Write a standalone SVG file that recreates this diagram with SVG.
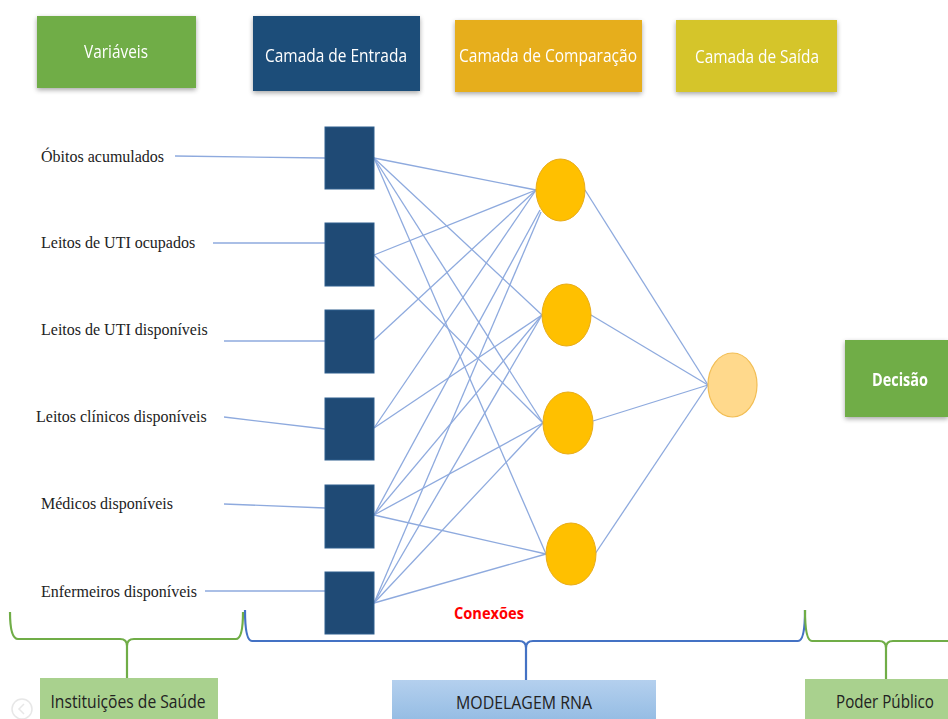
<svg xmlns="http://www.w3.org/2000/svg" width="948" height="719" viewBox="0 0 948 719">
<defs>
<filter id="soft" x="-10%" y="-10%" width="120%" height="130%">
<feGaussianBlur in="SourceAlpha" stdDeviation="2.5"/>
<feOffset dx="0" dy="1.5" result="b"/>
<feComponentTransfer><feFuncA type="linear" slope="0.35"/></feComponentTransfer>
<feMerge><feMergeNode/><feMergeNode in="SourceGraphic"/></feMerge>
</filter>
<linearGradient id="blueGrad" x1="0" y1="0" x2="0" y2="1">
<stop offset="0" stop-color="#B4D0EE"/>
<stop offset="1" stop-color="#93BBE3"/>
</linearGradient>
</defs>
<style>
.hdr{font-family:"Open Sans","Noto Sans",sans-serif;font-size:18px;fill:#ffffff;text-anchor:middle}
.var{font-family:"Liberation Serif","DejaVu Serif",serif;font-size:16px;fill:#222222}
.foot{font-family:"Open Sans","Noto Sans",sans-serif;font-size:18px;fill:#222222;text-anchor:middle}
.sq{fill:#1F4A75;stroke:#2E5E8E;stroke-width:1}
.cmp{fill:#FFC000;stroke:#E8AC1A;stroke-width:1}
.out{fill:#FFD98C;stroke:#F2BE55;stroke-width:1.2}
.ln{stroke:#8EAADE;stroke-width:1.3;fill:none}
.brG{stroke:#70AD47;stroke-width:2.2;fill:none}
.brB{stroke:#4472C4;stroke-width:2.2;fill:none}
</style>
<rect width="948" height="719" fill="#ffffff"/>

<g id="hdr-variaveis" filter="url(#soft)">
<rect x="37" y="16" width="159" height="72" fill="#70AD47"/>
<text class="hdr" x="116" y="58" textLength="64" lengthAdjust="spacingAndGlyphs">Variáveis</text>
</g>
<g id="hdr-entrada" filter="url(#soft)">
<rect x="253" y="16" width="167" height="75" fill="#1F4E79"/>
<text class="hdr" x="336" y="62" textLength="142" lengthAdjust="spacingAndGlyphs">Camada de Entrada</text>
</g>
<g id="hdr-comparacao" filter="url(#soft)">
<rect x="455" y="20" width="187" height="72" fill="#E6AE1C"/>
<text class="hdr" x="548" y="62" textLength="178" lengthAdjust="spacingAndGlyphs">Camada de Comparação</text>
</g>
<g id="hdr-saida" filter="url(#soft)">
<rect x="676" y="20" width="161" height="72" fill="#D5C52B"/>
<text class="hdr" x="757" y="63" textLength="124" lengthAdjust="spacingAndGlyphs">Camada de Saída</text>
</g>
<g id="decisao" filter="url(#soft)">
<rect x="845" y="340" width="103" height="77" fill="#70AD47"/>
<text class="hdr" x="900" y="386" textLength="56" lengthAdjust="spacingAndGlyphs" font-weight="bold">Decisão</text>
</g>

<g id="connectors">
<!-- input lines -->
<line class="ln" x1="175" y1="156" x2="325" y2="158"/>
<line class="ln" x1="213" y1="243" x2="325" y2="243"/>
<line class="ln" x1="224" y1="341" x2="325" y2="341"/>
<line class="ln" x1="224" y1="417" x2="325" y2="429"/>
<line class="ln" x1="224" y1="504" x2="325" y2="508"/>
<line class="ln" x1="205" y1="591" x2="325" y2="591"/>
<!-- input 1 -->
<line class="ln" x1="374" y1="158" x2="536" y2="190"/>
<line class="ln" x1="374" y1="158" x2="542" y2="315"/>
<line class="ln" x1="374" y1="158" x2="543" y2="423"/>
<line class="ln" x1="374" y1="158" x2="546" y2="554"/>
<!-- input 2 -->
<line class="ln" x1="374" y1="255" x2="536" y2="190"/>
<line class="ln" x1="374" y1="255" x2="543" y2="423"/>
<!-- input 3 -->
<line class="ln" x1="374" y1="340" x2="536" y2="190"/>
<!-- input 4 -->
<line class="ln" x1="374" y1="428" x2="536" y2="190"/>
<line class="ln" x1="374" y1="428" x2="542" y2="315"/>
<!-- input 5 -->
<line class="ln" x1="374" y1="515" x2="540" y2="210"/>
<line class="ln" x1="374" y1="515" x2="542" y2="315"/>
<line class="ln" x1="374" y1="515" x2="543" y2="423"/>
<line class="ln" x1="374" y1="515" x2="546" y2="554"/>
<!-- input 6 -->
<line class="ln" x1="374" y1="603" x2="541" y2="212"/>
<line class="ln" x1="374" y1="603" x2="542" y2="315"/>
<line class="ln" x1="374" y1="603" x2="543" y2="423"/>
<line class="ln" x1="374" y1="603" x2="546" y2="554"/>
<!-- comparison to output -->
<line class="ln" x1="585" y1="190" x2="708" y2="385"/>
<line class="ln" x1="591" y1="315" x2="708" y2="385"/>
<line class="ln" x1="593" y1="421" x2="708" y2="385"/>
<line class="ln" x1="595" y1="554" x2="708" y2="385"/>
</g>

<g id="labels">
<text class="var" x="41" y="162">Óbitos acumulados</text>
<text class="var" x="41" y="248">Leitos de UTI ocupados</text>
<text class="var" x="41" y="335">Leitos de UTI disponíveis</text>
<text class="var" x="36" y="422">Leitos clínicos disponíveis</text>
<text class="var" x="41" y="509">Médicos disponíveis</text>
<text class="var" x="41" y="597">Enfermeiros disponíveis</text>
</g>

<g id="input-1"><rect class="sq" x="325" y="127" width="49" height="62"/></g>
<g id="input-2"><rect class="sq" x="325" y="223" width="49" height="63"/></g>
<g id="input-3"><rect class="sq" x="325" y="310" width="49" height="63"/></g>
<g id="input-4"><rect class="sq" x="325" y="398" width="49" height="62"/></g>
<g id="input-5"><rect class="sq" x="325" y="485" width="49" height="63"/></g>
<g id="input-6"><rect class="sq" x="325" y="572" width="49" height="62"/></g>

<g id="comp-1"><ellipse class="cmp" cx="560.5" cy="190" rx="24.5" ry="31"/></g>
<g id="comp-2"><ellipse class="cmp" cx="566.5" cy="315" rx="24.5" ry="31"/></g>
<g id="comp-3"><ellipse class="cmp" cx="568" cy="423" rx="25" ry="31"/></g>
<g id="comp-4"><ellipse class="cmp" cx="571" cy="554" rx="25" ry="31"/></g>

<g id="output"><ellipse class="out" cx="732.5" cy="385" rx="24.5" ry="32"/></g>

<g id="conexoes">
<text x="489" y="619" font-family="Open Sans,Noto Sans,sans-serif" font-size="16" font-weight="bold" fill="#FF0000" text-anchor="middle" textLength="70" lengthAdjust="spacingAndGlyphs">Conexões</text>
</g>

<g id="brackets">
<path class="brG" d="M10,612 Q10,639 18,639 L120,639 Q127,639 127,646 L127,678 M127,646 Q127,639 134,639 L236,639 Q243,639 243,612"/>
<path class="brB" d="M245,610 Q245,641 252,641 L519,641 Q526,641 526,648 L526,680 M526,648 Q526,641 533,641 L798,641 Q805,641 805,610"/>
<path class="brG" d="M805,610 Q805,641 812,641 L879,641 Q886,641 886,648 L886,679 M886,648 Q886,641 893,641 L948,641"/>
</g>

<g id="instituicoes">
<rect x="40" y="678" width="178" height="45" fill="#A9D18E"/>
<text class="foot" x="128" y="708" textLength="155" lengthAdjust="spacingAndGlyphs">Instituições de Saúde</text>
</g>
<g id="modelagem">
<rect x="392" y="680" width="264" height="43" fill="url(#blueGrad)"/>
<text class="foot" x="524" y="709" textLength="136" lengthAdjust="spacingAndGlyphs">MODELAGEM RNA</text>
</g>
<g id="poder">
<rect x="805" y="679" width="143" height="44" fill="#A9D18E"/>
<text class="foot" x="885" y="708" textLength="98" lengthAdjust="spacingAndGlyphs">Poder Público</text>
</g>

<g id="nav-icon" opacity="0.35">
<circle cx="22" cy="709" r="10" fill="none" stroke="#bbbbbb" stroke-width="1.5"/>
<path d="M24,704 L19,709 L24,714" fill="none" stroke="#bbbbbb" stroke-width="1.5"/>
</g>
</svg>
